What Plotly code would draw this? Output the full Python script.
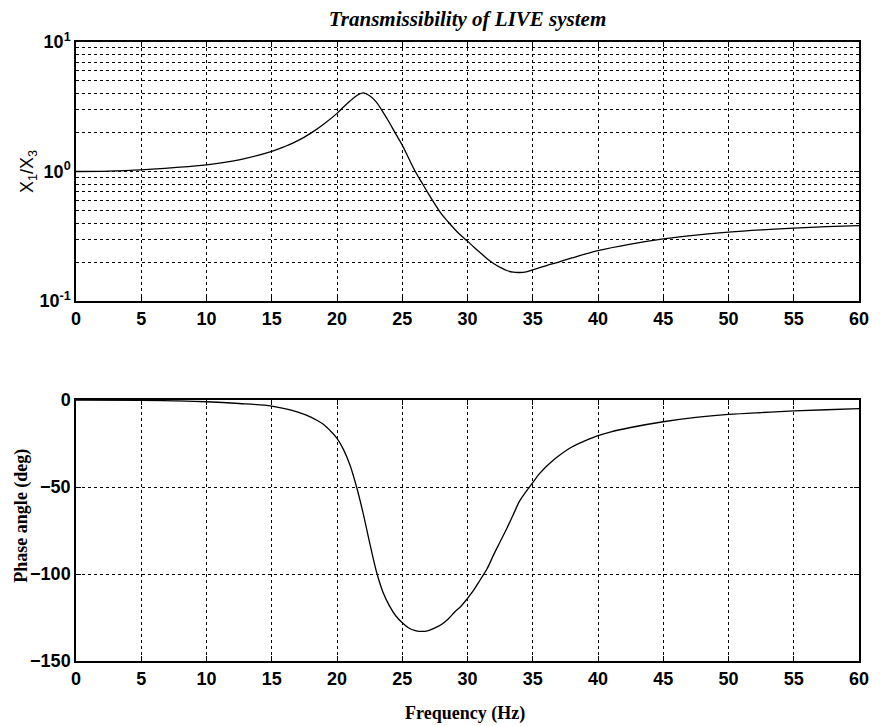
import plotly.graph_objects as go

# ---- data ----
freq_mag = [0, 2.5, 5, 7.5, 10, 12.5, 15, 16, 17, 18, 19, 20, 20.5, 21, 21.5, 22, 22.5,
            23, 23.5, 24, 24.5, 25, 25.5, 26, 26.5, 27, 27.5, 28, 28.5, 29, 29.5, 30,
            30.5, 31, 31.5, 32, 32.5, 33, 33.5, 34, 34.5, 35, 36, 37, 38, 40, 42.5, 45,
            47.5, 50, 52.5, 55, 57.5, 60]
transmissibility = [1.0, 1.008, 1.03, 1.07, 1.125, 1.23, 1.43, 1.56, 1.73, 1.98, 2.33,
                    2.81, 3.15, 3.5, 3.85, 4.05, 3.85, 3.45, 2.9, 2.4, 1.95, 1.6, 1.26,
                    1.0, 0.82, 0.675, 0.56, 0.47, 0.41, 0.36, 0.32, 0.29, 0.26, 0.235,
                    0.212, 0.195, 0.182, 0.172, 0.167, 0.166, 0.168, 0.174, 0.187, 0.2,
                    0.215, 0.245, 0.275, 0.302, 0.323, 0.34, 0.354, 0.366, 0.375, 0.382]

freq_ph = [0, 5, 7.5, 10, 12.5, 15, 16, 17, 18, 18.5, 19, 19.5, 20, 20.5, 21, 21.5, 22,
           22.5, 23, 23.5, 24, 24.5, 25, 25.5, 26, 26.5, 27, 27.5, 28, 28.5, 29, 29.5,
           30, 30.5, 31, 31.5, 32, 32.5, 33, 33.5, 34, 34.5, 35, 35.5, 36, 36.5, 37, 38,
           39, 40, 41, 42.5, 45, 47.5, 50, 52.5, 55, 57.5, 60]
phase_deg = [0, -0.2, -0.5, -1, -2, -3.5, -5, -7, -9.8, -11.8, -14.2, -17.8, -22, -28.5,
             -37.5, -50, -65, -82, -98, -110, -118, -124, -128, -131, -132.5, -133,
             -132.5, -131, -129, -126, -122, -118.5, -114, -109, -103, -97, -89, -81.5,
             -74, -66, -58, -52.5, -47.5, -42.5, -38.5, -35, -32, -27, -23.5, -20.5,
             -18.3, -15.8, -12.5, -10, -8.3, -7.2, -6.3, -5.6, -5]

x_ticks = list(range(0, 61, 5))
log_major = [0.1, 1, 10]
log_major_text = ["10<sup>-1</sup>", "10<sup>0</sup>", "10<sup>1</sup>"]
log_minor = [0.2, 0.3, 0.4, 0.5, 0.6, 0.7, 0.8, 0.9, 2, 3, 4, 5, 6, 7, 8, 9]
phase_ticks = [0, -50, -100, -150]

title_text = "Transmissibility of LIVE system"
ylabel_top = "X<sub>1</sub>/X<sub>3</sub>"
ylabel_bottom = "Phase angle (deg)"
xlabel = "Frequency (Hz)"

W, H = 881, 726
ml, mr, mt, mb = 76, 13, 42, 65
ph = H - mt - mb
pw = W - ml - mr
top_dom = [(H - mb - 301) / ph, 1.0]
bot_dom = [0.0, (H - mb - 400) / ph]

tickfont = dict(family="Liberation Sans", size=18, color="black", weight="bold")
axis_common = dict(showline=True, linecolor="black", linewidth=1.5, mirror="ticks",
                   ticks="inside", ticklen=5, tickcolor="black", tickwidth=1,
                   showgrid=True, gridcolor="black", griddash="dot", gridwidth=0.8,
                   zeroline=False, tickfont=tickfont)

line_style = dict(color="black", width=1.3, shape="spline", smoothing=1.0)

fig = go.Figure()
fig.add_trace(go.Scatter(x=freq_mag, y=transmissibility, mode="lines", line=line_style,
                         xaxis="x", yaxis="y", showlegend=False))
fig.add_trace(go.Scatter(x=freq_ph, y=phase_deg, mode="lines", line=line_style,
                         xaxis="x2", yaxis="y2", showlegend=False))

fig.update_layout(
    width=W, height=H,
    margin=dict(l=ml, r=mr, t=mt, b=mb),
    paper_bgcolor="white", plot_bgcolor="white",
    xaxis=dict(axis_common, domain=[0, 1], range=[0, 60], tickvals=x_ticks, anchor="y",
               ticklabelstandoff=1),
    yaxis=dict(axis_common, domain=top_dom, type="log", range=[-1, 1],
               tickvals=log_major, ticktext=log_major_text, anchor="x",
               minor=dict(tickvals=log_minor, ticks="inside", ticklen=3,
                          tickcolor="black", showgrid=True, gridcolor="black",
                          griddash="dot", gridwidth=0.8)),
    xaxis2=dict(axis_common, domain=[0, 1], range=[0, 60], tickvals=x_ticks, anchor="y2",
                ticklabelstandoff=1),
    yaxis2=dict(axis_common, domain=bot_dom, range=[-150, 0], tickvals=phase_ticks,
                anchor="x2"),
    title=dict(text=title_text, x=0.5, xanchor="center", xref="paper",
               y=1 - 19 / H, yanchor="middle", yref="container",
               font=dict(family="Liberation Serif", size=21, color="black",
                         weight="bold", style="italic")),
)

fig.add_annotation(text=ylabel_top, xref="paper", yref="paper",
                   x=-48 / pw, y=(top_dom[0] + top_dom[1]) / 2,
                   textangle=-90, showarrow=False, xanchor="center", yanchor="middle",
                   font=dict(family="Liberation Sans", size=18, color="black"))
fig.add_annotation(text=ylabel_bottom, xref="paper", yref="paper",
                   x=-56 / pw, y=(H - mb - 516) / ph,
                   textangle=-90, showarrow=False, xanchor="center", yanchor="middle",
                   font=dict(family="Liberation Serif", size=18, color="black", weight="bold"))
fig.add_annotation(text=xlabel, xref="paper", yref="paper",
                   x=(469 - ml) / pw, y=(H - mb - 713) / ph,
                   showarrow=False, xanchor="center", yanchor="middle",
                   font=dict(family="Liberation Serif", size=18, color="black", weight="bold"))

fig.write_html("out.html")
